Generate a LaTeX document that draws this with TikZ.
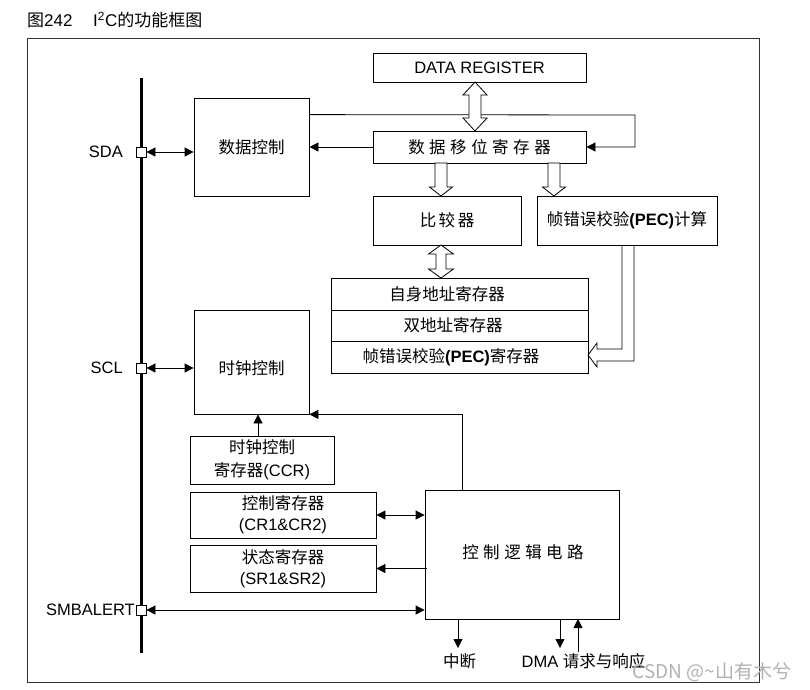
\documentclass[tikz,border=0pt]{standalone}
\usepackage{fontspec}
\setmainfont{Liberation Sans}
\newfontfamily\cjk{Noto Sans CJK SC}
\usetikzlibrary{arrows.meta,calc}
\newcommand{\gap}{\hspace{4.5pt}}
\newcommand{\sgap}{\hspace{2.5pt}}
% vertical hollow double arrow: x, ytop, ybot, shaft half width, head half width, head length
\newcommand{\dblarrowv}[6]{%
  \filldraw[hollow] (#1,#2) -- ({#1+#5},{#2+#6}) -- ({#1+#4},{#2+#6}) -- ({#1+#4},{#3-#6}) -- ({#1+#5},{#3-#6}) -- (#1,#3) -- ({#1-#5},{#3-#6}) -- ({#1-#4},{#3-#6}) -- ({#1-#4},{#2+#6}) -- ({#1-#5},{#2+#6}) -- cycle;}
% vertical hollow down arrow
\newcommand{\downarrowv}[6]{%
  \filldraw[hollow] ({#1-#4},#2) -- ({#1+#4},#2) -- ({#1+#4},{#3-#6}) -- ({#1+#5},{#3-#6}) -- (#1,#3) -- ({#1-#5},{#3-#6}) -- ({#1-#4},{#3-#6}) -- cycle;}
\begin{document}
\begin{tikzpicture}[x=1pt,y=-1pt,
  fnt/.style={font=\fontsize{16.5}{22}\selectfont},
  box/.style={draw, line width=0.8pt, inner sep=0pt, align=center, fnt},
  txt/.style={inner sep=0pt, align=center, fnt},
  conn/.style={line width=0.8pt},
  arr/.style={conn, -{Triangle[length=9pt,width=9pt]}},
  darr/.style={conn, {Triangle[length=9pt,width=9pt]}-{Triangle[length=9pt,width=9pt]}},
  hollow/.style={draw, fill=white, line width=0.8pt, line join=miter},
  sq/.style={draw, fill=white, minimum size=10pt, inner sep=0pt, line width=0.8pt},
  pin/.style={inner sep=0pt, anchor=east, fnt}]
\useasboundingbox (0,0) rectangle (810,689);
\fill[white] (0,0) rectangle (810,689);

% title
\node[inner sep=0pt, anchor=west, font=\fontsize{17}{20}\selectfont] (title1) at (27,20) {{\cjk 图}242};
\node[inner sep=0pt, anchor=west, font=\fontsize{17}{20}\selectfont] (title2) at (93,20) {I\textsuperscript{2}C{\cjk 的功能框图}};

% frame
\draw[line width=1pt, black!80] (27,38) rectangle (759,682);

% bus
\coordinate (bustop) at (141,78);
\coordinate (busbot) at (141,653);
\draw[line width=3pt] (bustop) -- (busbot);

% boxes
\node[box, minimum width=213pt, minimum height=29pt] (datareg) at (479.5,67.5) {DATA REGISTER};
\node[box, minimum width=213pt, minimum height=32pt] (shift) at (479.5,147) {\cjk 数\gap 据\gap 移\gap 位\gap 寄\gap 存\gap 器};
\node[box, minimum width=148pt, minimum height=49pt] (cmp) at (447,220.5) {\cjk 比\sgap 较\sgap 器};
\node[box, minimum width=180pt, minimum height=49pt] (pec) at (627,220.5) {{\cjk 帧错误校验}\textbf{(PEC)}{\cjk 计算}};

\node[box, minimum width=257pt, minimum height=32pt] (r1) at (459.5,294) {};
\node[box, minimum width=257pt, minimum height=31pt] (r2) at (459.5,325.5) {};
\node[box, minimum width=257pt, minimum height=32pt] (r3) at (459.5,357) {};
\node[txt] (r1t) at (447,294) {\cjk 自身地址寄存器};
\node[txt] (r2t) at (453,325.5) {\cjk 双地址寄存器};
\node[txt] (r3t) at (451,357) {{\cjk 帧错误校验}\textbf{(PEC)}{\cjk 寄存器}};

\node[box, minimum width=115pt, minimum height=98pt] (dctl) at (251.5,147) {\cjk 数据控制};
\node[box, minimum width=115pt, minimum height=104pt] (cctl) at (251.5,362) {};
\node[txt] (cctlt) at (251.5,368) {\cjk 时钟控制};
\node[box, minimum width=144pt, minimum height=48pt] (ccr) at (262,460) {{\cjk 时钟控制}\\[1pt]{\cjk 寄存器}(CCR)};
\node[box, minimum width=186pt, minimum height=46pt] (cr) at (283,515) {{\cjk 控制寄存器}\\[-1pt](CR1\&CR2)};
\node[box, minimum width=186pt, minimum height=47pt] (sr) at (283,568.5) {{\cjk 状态寄存器}\\[-1pt](SR1\&SR2)};
\node[box, minimum width=194pt, minimum height=129pt] (logic) at (522,554.5) {};
\node[txt] (logict) at (523,552) {\cjk 控\gap 制\gap 逻\gap 辑\gap 电\gap 路};

% pins
\node[sq] (sdasq) at (141,152) {};
\node[sq] (sclsq) at (141,368) {};
\node[sq] (smbsq) at (141,610) {};
\node[pin] (sdal) at (123,152) {SDA};
\node[pin] (scll) at (123,368) {SCL};
\node[pin] (smbl) at (135,610) {SMBALERT};

% connectors
\draw[darr] (sdasq.east) -- (sdasq.east -| dctl.west);
\draw[darr] (sclsq.east) -- (sclsq.east -| cctl.west);
\draw[darr] (smbsq.east) -- (smbsq.east -| logic.west);
\draw[arr] (shift.west) -- (shift.west -| dctl.east);
\coordinate (loopc) at (635,115);
\draw[arr] ([yshift=-17pt]dctl.north east) -- (loopc) |- (shift.east);
\draw[arr] ([xshift=-4pt]ccr.north) -- ([xshift=-4pt]ccr.north |- cctl.south);
\coordinate (lgtop) at (462,490);
\draw[arr] (lgtop) |- (cctl.south east);
\draw[darr] (cr.east) -- (cr.east -| logic.west);
\draw[arr] ([xshift=2pt]sr.east -| logic.west) -- (sr.east);

% bottom outputs
\coordinate (irqs) at (458,619);
\coordinate (irqe) at (458,648);
\draw[arr] (irqs) -- (irqe);
\coordinate (dmas) at (560,619);
\coordinate (dmae) at (560,648);
\draw[arr] (dmas) -- (dmae);
\coordinate (acks) at (578,652);
\coordinate (acke) at (578,619);
\draw[arr] (acks) -- (acke);
\node[txt] (irql) at (459.5,661) {\cjk 中断};
\node[txt] (dmal) at (583.5,661) {DMA {\cjk 请求与响应}};

% hollow arrows
\dblarrowv{475}{82}{131}{6}{12}{13}
\downarrowv{441}{163}{196}{6}{11.5}{9}
\downarrowv{554}{163}{196}{6}{11.5}{9}
\dblarrowv{441}{245}{278}{5}{12.5}{9}
\draw[hollow, fill=none] (622,245) -- (622,349) -- (597,349) -- (597,343) -- (588,355) -- (597,367) -- (597,361) -- (634,361) -- (634,245);

% watermark
\node[inner sep=0pt, font=\fontsize{19}{21}\selectfont\cjk, text=black!30] (wm) at (712,672) {CSDN @\textasciitilde 山有木兮};
\end{tikzpicture}
\end{document}
